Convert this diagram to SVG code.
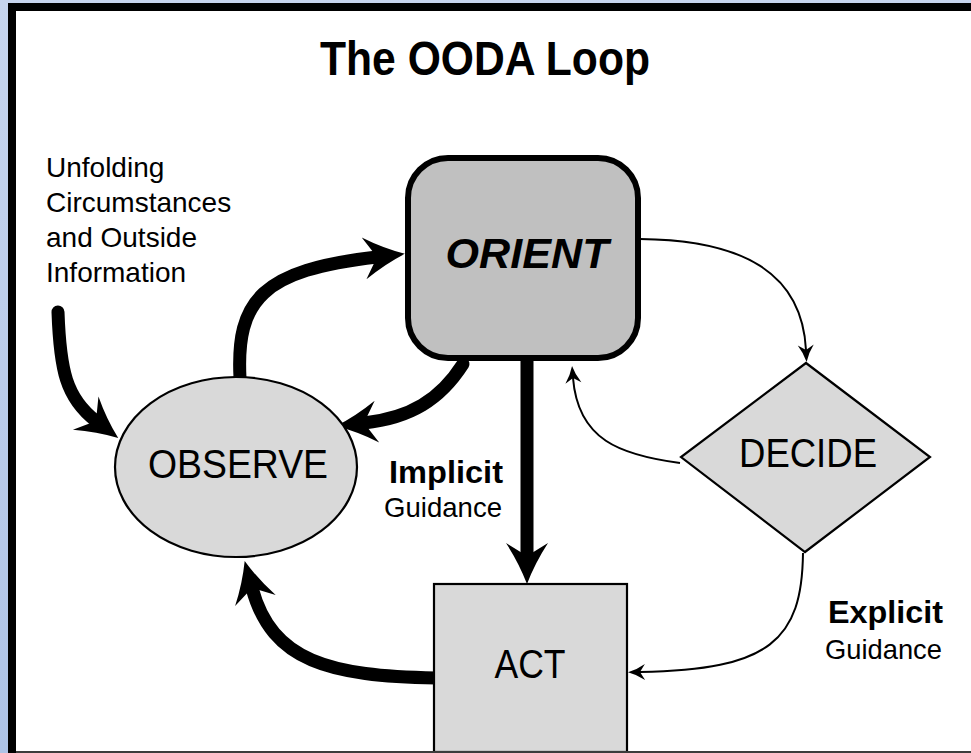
<svg xmlns="http://www.w3.org/2000/svg" width="971" height="753" viewBox="0 0 971 753">
  <style>
    .lbl { font-family: "Liberation Sans", Arial, sans-serif; fill: #000; }
    .node-text { font-size: 40px; text-anchor: middle; }
    .side { font-size: 28px; }
    .thick { fill: none; stroke: #000; stroke-width: 13; stroke-linecap: round; }
    .thin { fill: none; stroke: #000; stroke-width: 2; }
    .soft { fill: #d9d9d9; stroke: #000; stroke-width: 2.2; }
  </style>
  <defs>
    <linearGradient id="edge" x1="0" y1="0" x2="0" y2="1">
      <stop offset="0" stop-color="#c7d5ee"/>
      <stop offset="1" stop-color="#aec3e6"/>
    </linearGradient>
    <!-- barbed heads; reference point sits at the notch so the shaft ends inside the head -->
    <marker id="headThick" markerUnits="userSpaceOnUse" viewBox="-16 -26 50 52" markerWidth="50" markerHeight="52" refX="0" refY="0" orient="auto" overflow="visible">
      <path d="M-13,-21 Q7,-8 28,0 Q7,8 -13,21 L0,0 Z" fill="#000"/>
    </marker>
    <marker id="headThin" markerUnits="userSpaceOnUse" viewBox="-7 -10 22 20" markerWidth="22" markerHeight="20" refX="0" refY="0" orient="auto" overflow="visible">
      <path d="M-5,-8 Q3,-2.5 12,0 Q3,2.5 -5,8 L0,0 Z" fill="#000"/>
    </marker>
  </defs>

  <!-- page frame -->
  <rect x="0" y="0" width="971" height="753" fill="url(#edge)"/>
  <rect x="8" y="3" width="963" height="750" fill="#000"/>
  <rect x="16" y="11" width="955" height="740" fill="#fff"/>

  <text class="lbl" x="485" y="75" font-size="49" font-weight="bold" text-anchor="middle" textLength="330" lengthAdjust="spacingAndGlyphs">The OODA Loop</text>

  <g id="input-label">
    <text class="lbl side" x="46" y="177">Unfolding</text>
    <text class="lbl side" x="46" y="212">Circumstances</text>
    <text class="lbl side" x="46" y="247">and Outside</text>
    <text class="lbl side" x="46" y="282">Information</text>
  </g>

  <g id="connectors">
    <!-- outside information into OBSERVE -->
    <path class="thick" d="M58,312 C60,370 66,398 96,421" marker-end="url(#headThick)"/>
    <!-- OBSERVE to ORIENT -->
    <path class="thick" d="M240,378 C236,300 262,270 377,257" marker-end="url(#headThick)"/>
    <!-- ORIENT feedback to OBSERVE -->
    <path class="thick" d="M463,364 C440,400 410,418 364,423" marker-end="url(#headThick)" stroke-linecap="butt"/>
    <!-- implicit guidance ORIENT to ACT -->
    <path class="thick" d="M527,358 L527,556" marker-end="url(#headThick)" stroke-linecap="butt"/>
    <!-- ACT back to OBSERVE -->
    <path class="thick" d="M436,678 C330,676 272,662 252,588" marker-end="url(#headThick)"/>
    <!-- ORIENT to DECIDE -->
    <path class="thin" d="M640,239 C742,240 802,272 806,350" marker-end="url(#headThin)"/>
    <!-- DECIDE back to ORIENT -->
    <path class="thin" d="M680,463 C620,455 578,440 573,378" marker-end="url(#headThin)"/>
    <!-- explicit guidance DECIDE to ACT -->
    <path class="thin" d="M803,553 C802,640 770,670 640,672" marker-end="url(#headThin)"/>
  </g>

  <g id="orient">
    <rect x="408" y="158" width="230" height="200" rx="40" ry="40" fill="#c0c0c0" stroke="#000" stroke-width="6"/>
    <text class="lbl" x="527" y="268" font-size="43" font-weight="bold" font-style="italic" text-anchor="middle" textLength="163" lengthAdjust="spacingAndGlyphs">ORIENT</text>
  </g>

  <g id="observe">
    <ellipse class="soft" cx="236" cy="467" rx="121" ry="90"/>
    <text class="lbl node-text" x="238" y="478" textLength="180" lengthAdjust="spacingAndGlyphs">OBSERVE</text>
  </g>

  <g id="decide">
    <polygon class="soft" points="806,363 930,457 805,552 681,457"/>
    <text class="lbl node-text" x="808" y="467" textLength="138" lengthAdjust="spacingAndGlyphs">DECIDE</text>
  </g>

  <g id="act">
    <rect class="soft" x="434" y="584" width="193" height="168" stroke-width="2.6"/>
    <text class="lbl node-text" x="530" y="678" textLength="71" lengthAdjust="spacingAndGlyphs">ACT</text>
  </g>

  <g id="implicit-label">
    <text class="lbl" x="389" y="483" font-size="32" font-weight="bold" textLength="114" lengthAdjust="spacingAndGlyphs">Implicit</text>
    <text class="lbl" x="384" y="517" font-size="28" textLength="118" lengthAdjust="spacingAndGlyphs">Guidance</text>
  </g>

  <g id="explicit-label">
    <text class="lbl" x="828" y="623" font-size="32" font-weight="bold" textLength="115" lengthAdjust="spacingAndGlyphs">Explicit</text>
    <text class="lbl" x="825" y="659" font-size="28" textLength="117" lengthAdjust="spacingAndGlyphs">Guidance</text>
  </g>

  <!-- bottom edge line -->
  <rect x="16" y="751" width="955" height="2" fill="#3c3c3c"/>
</svg>
